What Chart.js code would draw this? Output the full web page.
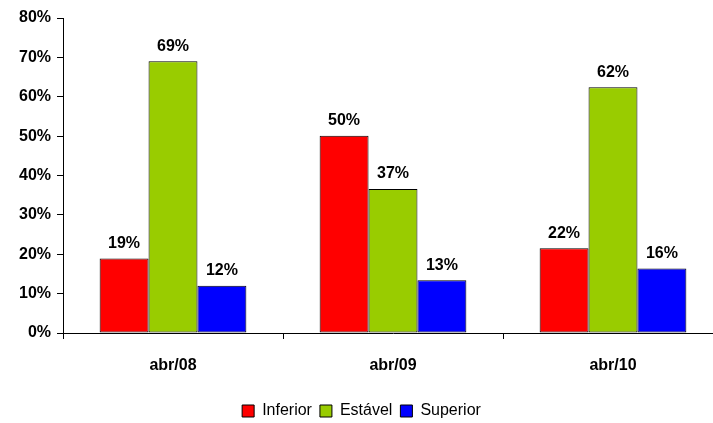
<!DOCTYPE html>
<html>
<head>
<meta charset="utf-8">
<script src="https://cdn.jsdelivr.net/npm/chart.js@4.4.1/dist/chart.umd.min.js"></script>
<style>
  html, body { margin: 0; padding: 0; background: #fff; overflow: hidden; }
  #wrap { width: 782px; height: 429px; }
</style>
</head>
<body>
<div id="wrap"><canvas id="chart"></canvas></div>
<script>
// data
const categories = ['abr/08', 'abr/09', 'abr/10'];
const inferior = [18.9, 50.1, 21.5];
const estavel = [69.0, 36.6, 62.4];
const superior = [12.0, 13.4, 16.4];
const yTicks = [0, 10, 20, 30, 40, 50, 60, 70, 80];

const FONT = '"Liberation Sans", Arial, sans-serif';

// labels above each bar
const valueLabels = {
    id: 'valueLabels',
    afterDatasetsDraw(chart) {
        const ctx = chart.ctx;
        ctx.save();
        ctx.font = 'bold 16px ' + FONT;
        ctx.fillStyle = '#000';
        ctx.textAlign = 'center';
        ctx.textBaseline = 'bottom';
        chart.data.datasets.forEach((ds, i) => {
            chart.getDatasetMeta(i).data.forEach((bar, j) => {
                ctx.fillText(Math.round(ds.data[j]) + '%', bar.x, bar.y - 7);
            });
        });
        ctx.restore();
    }
};

new Chart(document.getElementById('chart'), {
    type: 'bar',
    data: {
        labels: categories,
        datasets: [
            { label: 'Inferior', data: inferior, backgroundColor: '#FF0000' },
            { label: 'Estável', data: estavel, backgroundColor: '#99CC00' },
            { label: 'Superior', data: superior, backgroundColor: '#0000FF' }
        ].map(d => Object.assign(d, {
            borderColor: '#000',
            borderWidth: 1,
            borderSkipped: false,
            categoryPercentage: 0.667,
            barPercentage: 1.0
        }))
    },
    options: {
        responsive: true,
        maintainAspectRatio: false,
        animation: false,
        layout: { padding: { top: 18, right: 59, left: 0, bottom: 0 } },
        plugins: {
            legend: {
                position: 'bottom',
                labels: {
                    font: { family: FONT, size: 16 },
                    color: '#000',
                    boxWidth: 12,
                    boxHeight: 12,
                    padding: 8,
                    generateLabels(chart) {
                        return chart.data.datasets.map((ds, i) => ({
                            text: ds.label,
                            fillStyle: ds.backgroundColor,
                            strokeStyle: '#000',
                            lineWidth: 1,
                            datasetIndex: i
                        }));
                    }
                }
            },
            tooltip: { enabled: false }
        },
        scales: {
            x: {
                grid: {
                    offset: true,
                    drawOnChartArea: false,
                    drawTicks: true,
                    tickLength: 6,
                    color: '#000'
                },
                border: { color: '#000', width: 1 },
                ticks: {
                    font: { family: FONT, size: 16, weight: 'bold' },
                    color: '#000',
                    padding: 17
                },
                afterFit(scale) { scale.height = 62; }
            },
            y: {
                min: 0,
                max: 80,
                afterBuildTicks(scale) { scale.ticks = yTicks.map(v => ({ value: v })); },
                grid: {
                    drawOnChartArea: false,
                    drawTicks: true,
                    tickLength: 6,
                    color: '#000'
                },
                border: { color: '#000', width: 1 },
                ticks: {
                    font: { family: FONT, size: 16, weight: 'bold' },
                    color: '#000',
                    padding: 6,
                    callback: v => v + '%'
                },
                afterFit(scale) { scale.width = 63; }
            }
        }
    },
    plugins: [valueLabels]
});
</script>
</body>
</html>
